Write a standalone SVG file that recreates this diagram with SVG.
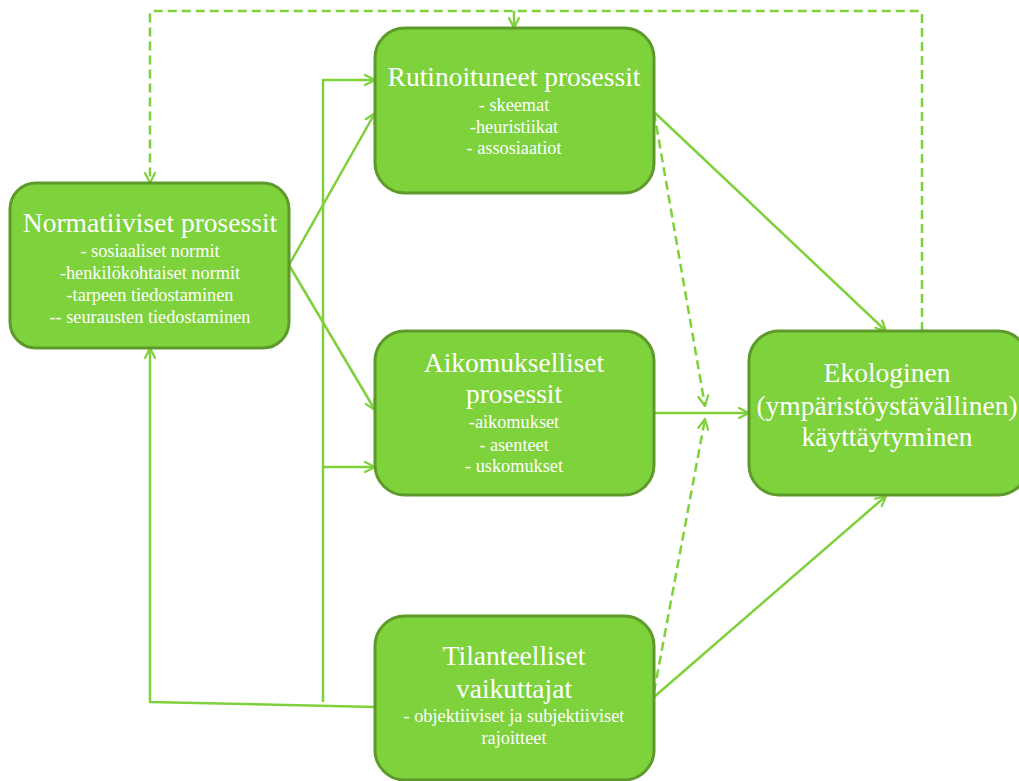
<svg xmlns="http://www.w3.org/2000/svg" width="1019" height="781" viewBox="0 0 1019 781">
  <defs>
    <marker id="arrow" viewBox="0 0 12 12" refX="11" refY="6" markerWidth="12" markerHeight="12" markerUnits="userSpaceOnUse" orient="auto">
      <path d="M1,1 L11,6 L1,11" fill="none" stroke="#7ED13B" stroke-width="2.2" stroke-linecap="round" stroke-linejoin="round"/>
    </marker>
    <style>
      .box { fill: #7ED23B; stroke: #5E9A2B; stroke-width: 3; }
      .title { font-family: "Liberation Serif", "Times New Roman", serif; font-size: 27.5px; fill: #FFFFFF; text-anchor: middle; }
      .item { font-family: "Liberation Serif", "Times New Roman", serif; font-size: 18.3px; fill: #FFFFFF; text-anchor: middle; }
      .link { fill: none; stroke: #7ED13B; stroke-width: 2.5; stroke-linejoin: round; }
      .dash { stroke-dasharray: 9 5; }
    </style>
  </defs>

  <rect width="1019" height="781" fill="#FFFFFF"/>

  <!-- connectors -->
  <g id="connectors">
    <!-- feedback loop from behaviour back to normative and routine processes -->
    <path class="link dash" d="M922,331 V14 Q922,11 919,11 H153 Q150,11 150,14 V183" marker-end="url(#arrow)"/>
    <path class="link" d="M514,11 V28" marker-end="url(#arrow)"/>
    <!-- normative to routine and intentional -->
    <path class="link" d="M289,265 L375,113" marker-end="url(#arrow)"/>
    <path class="link" d="M289,265 L375,410" marker-end="url(#arrow)"/>
    <!-- situational factors trunk -->
    <path class="link" d="M323,702 V80 H375" marker-end="url(#arrow)"/>
    <path class="link" d="M323,467 H375" marker-end="url(#arrow)"/>
    <path class="link" d="M375,707 L150,702 V348" marker-end="url(#arrow)"/>
    <!-- into behaviour -->
    <path class="link" d="M654,112 L886,331" marker-end="url(#arrow)"/>
    <path class="link dash" d="M654,112 L705,406" marker-end="url(#arrow)"/>
    <path class="link" d="M654,413 H749" marker-end="url(#arrow)"/>
    <path class="link dash" d="M654,692 L705,419" marker-end="url(#arrow)"/>
    <path class="link" d="M654,697 L886,496" marker-end="url(#arrow)"/>
  </g>

  <g id="normatiiviset">
    <rect class="box" x="10" y="183" width="279" height="165" rx="26"/>
    <text class="title" x="150" y="232">Normatiiviset prosessit</text>
    <text class="item" x="150" y="257">- sosiaaliset normit</text>
    <text class="item" x="150" y="279">-henkilökohtaiset normit</text>
    <text class="item" x="150" y="301">-tarpeen tiedostaminen</text>
    <text class="item" x="150" y="323">-- seurausten tiedostaminen</text>
  </g>

  <g id="rutinoituneet">
    <rect class="box" x="375" y="28" width="279" height="165" rx="30"/>
    <text class="title" x="514" y="86">Rutinoituneet prosessit</text>
    <text class="item" x="514" y="111">- skeemat</text>
    <text class="item" x="514" y="133">-heuristiikat</text>
    <text class="item" x="514" y="154">- assosiaatiot</text>
  </g>

  <g id="aikomukselliset">
    <rect class="box" x="375" y="331" width="279" height="164" rx="30"/>
    <text class="title" x="514" y="372">Aikomukselliset</text>
    <text class="title" x="514" y="403">prosessit</text>
    <text class="item" x="514" y="428">-aikomukset</text>
    <text class="item" x="514" y="451">- asenteet</text>
    <text class="item" x="514" y="472">- uskomukset</text>
  </g>

  <g id="ekologinen">
    <rect class="box" x="749" y="331" width="279" height="164" rx="30"/>
    <text class="title" x="887" y="382">Ekologinen</text>
    <text class="title" x="887" y="415">(ympäristöystävällinen)</text>
    <text class="title" x="887" y="446">käyttäytyminen</text>
  </g>

  <g id="tilanteelliset">
    <rect class="box" x="375" y="616" width="279" height="164" rx="30"/>
    <text class="title" x="514" y="665">Tilanteelliset</text>
    <text class="title" x="514" y="698">vaikuttajat</text>
    <text class="item" x="514" y="722">- objektiiviset ja subjektiiviset</text>
    <text class="item" x="514" y="744">rajoitteet</text>
  </g>
</svg>
